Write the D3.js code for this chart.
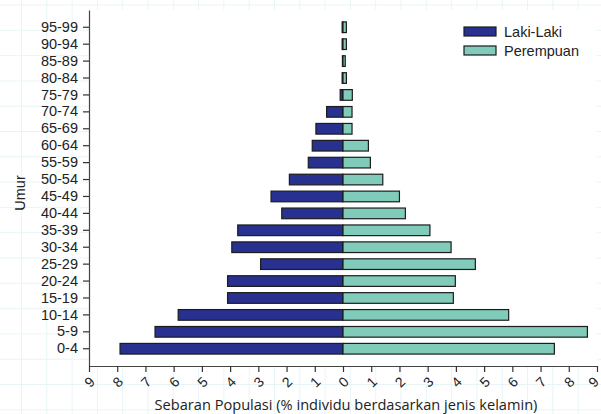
<!DOCTYPE html>
<html>
<head>
<meta charset="utf-8">
<script src="https://cdn.jsdelivr.net/npm/d3@7"></script>
<style>
  body { margin: 0; background: #fff; }
  svg { display: block; }
</style>
</head>
<body>
<script>
// age groups, bottom to top
const ages = ["0-4", "5-9", "10-14", "15-19", "20-24", "25-29", "30-34", "35-39",
    "40-44", "45-49", "50-54", "55-59", "60-64", "65-69", "70-74", "75-79",
    "80-84", "85-89", "90-94", "95-99"];

// % of population
const lakiLaki = [7.9, 6.66, 5.84, 4.09, 4.09, 2.92, 3.94, 3.73, 2.17, 2.55,
    1.9, 1.23, 1.09, 0.96, 0.58, 0.1, 0.03, 0.02, 0.03, 0.03];
const perempuan = [7.49, 8.66, 5.87, 3.91, 3.98, 4.69, 3.83, 3.08, 2.21, 2.0,
    1.41, 0.97, 0.9, 0.32, 0.32, 0.33, 0.12, 0.08, 0.12, 0.12];

const xTicks = [-9, -8, -7, -6, -5, -4, -3, -2, -1, 0, 1, 2, 3, 4, 5, 6, 7, 8, 9];
const seriesNames = ["Laki-Laki", "Perempuan"];

let width = 601;
let height = 414;

let plot = { left: 89, right: 597, top: 10, bottom: 366 };

const colors = { male: "#28318f", female: "#80cbb9", stroke: "#1c1c1c" };
const sans = "'Liberation Sans', Arial, sans-serif";

const svg = d3.select("body")
    .append("svg")
    .attr("width", width)
    .attr("height", height);

// faint graph-paper background
const grid = svg.append("g").attr("stroke", "#e8f5f7").attr("stroke-width", 1);
grid.selectAll("line.v")
    .data(d3.range(21.5, width, 25.3))
    .enter().append("line")
    .attr("x1", d => d).attr("x2", d => d)
    .attr("y1", 0).attr("y2", height);
grid.selectAll("line.h")
    .data(d3.range(5, height, 25.3))
    .enter().append("line")
    .attr("x1", 0).attr("x2", width)
    .attr("y1", d => d).attr("y2", d => d);

svg.append("rect")
    .attr("x", plot.left)
    .attr("y", plot.top)
    .attr("width", plot.right - plot.left)
    .attr("height", plot.bottom - plot.top)
    .attr("fill", "#fff");

// scales
let xScale = d3.scaleLinear()
    .domain([-9, 9])
    .range([plot.left, plot.right]);

let yScale = d3.scaleBand()
    .domain(ages)
    .range([plot.bottom, plot.top])
    .paddingInner(0.37)
    .paddingOuter(0.705);

// bars
const rows = ages.map((a, i) => ({ age: a, m: lakiLaki[i], f: perempuan[i] }));

svg.append("g").selectAll("rect")
    .data(rows)
    .enter().append("rect")
    .attr("x", d => xScale(-d.m))
    .attr("y", d => yScale(d.age))
    .attr("width", d => xScale(0) - xScale(-d.m))
    .attr("height", yScale.bandwidth())
    .attr("fill", colors.male)
    .attr("stroke", colors.stroke)
    .attr("stroke-width", 1.2);

svg.append("g").selectAll("rect")
    .data(rows)
    .enter().append("rect")
    .attr("x", xScale(0))
    .attr("y", d => yScale(d.age))
    .attr("width", d => xScale(d.f) - xScale(0))
    .attr("height", yScale.bandwidth())
    .attr("fill", colors.female)
    .attr("stroke", colors.stroke)
    .attr("stroke-width", 1.2);

// axes
const xAxis = svg.append("g")
    .attr("transform", `translate(0,${plot.bottom})`)
    .call(d3.axisBottom(xScale).tickValues(xTicks).tickSize(6).tickSizeOuter(0).tickFormat(d => Math.abs(d)));

// last label sits at the page edge, pull it in a little
xAxis.selectAll("text")
    .attr("dy", null)
    .attr("y", 0)
    .attr("text-anchor", "middle")
    .attr("dominant-baseline", "central")
    .attr("transform", (d, i) => `translate(${i === xTicks.length - 1 ? -4 : 0},16) rotate(-45)`)
    .style("font-family", sans)
    .style("font-size", "14px")
    .attr("fill", "#222");

const yAxis = svg.append("g")
    .attr("transform", `translate(${plot.left},0)`)
    .call(d3.axisLeft(yScale).tickSize(6).tickPadding(5).tickSizeOuter(0));

yAxis.selectAll("text")
    .style("font-family", sans)
    .style("font-size", "14.5px")
    .attr("fill", "#222");

svg.selectAll(".domain").attr("stroke", "#444").attr("stroke-width", 1.2);
svg.selectAll(".tick line").attr("stroke", "#333").attr("stroke-width", 1.2);

// axis labels
svg.append("text")
    .attr("x", 346)
    .attr("y", 410)
    .attr("text-anchor", "middle")
    .style("font-family", "'Open Sans', sans-serif")
    .style("font-size", "14.6px")
    .attr("fill", "#222")
    .text("Sebaran Populasi (% individu berdasarkan jenis kelamin)");

svg.append("text")
    .attr("transform", "translate(25,193) rotate(-90)")
    .attr("text-anchor", "middle")
    .style("font-family", sans)
    .style("font-size", "14.5px")
    .attr("fill", "#222")
    .text("Umur");

// legend
const legend = svg.append("g")
    .attr("transform", "translate(464,27)");

legend.selectAll("rect")
    .data(seriesNames)
    .enter().append("rect")
    .attr("x", 0)
    .attr("y", (d, i) => i * 19)
    .attr("width", 32)
    .attr("height", 9)
    .attr("fill", (d, i) => i === 0 ? colors.male : colors.female)
    .attr("stroke", colors.stroke)
    .attr("stroke-width", 1.2);

legend.selectAll("text")
    .data(seriesNames)
    .enter().append("text")
    .attr("x", 40)
    .attr("y", (d, i) => i * 19 + 10)
    .style("font-family", sans)
    .style("font-size", "14.5px")
    .attr("fill", "#222")
    .text(d => d);
</script>
</body>
</html>
